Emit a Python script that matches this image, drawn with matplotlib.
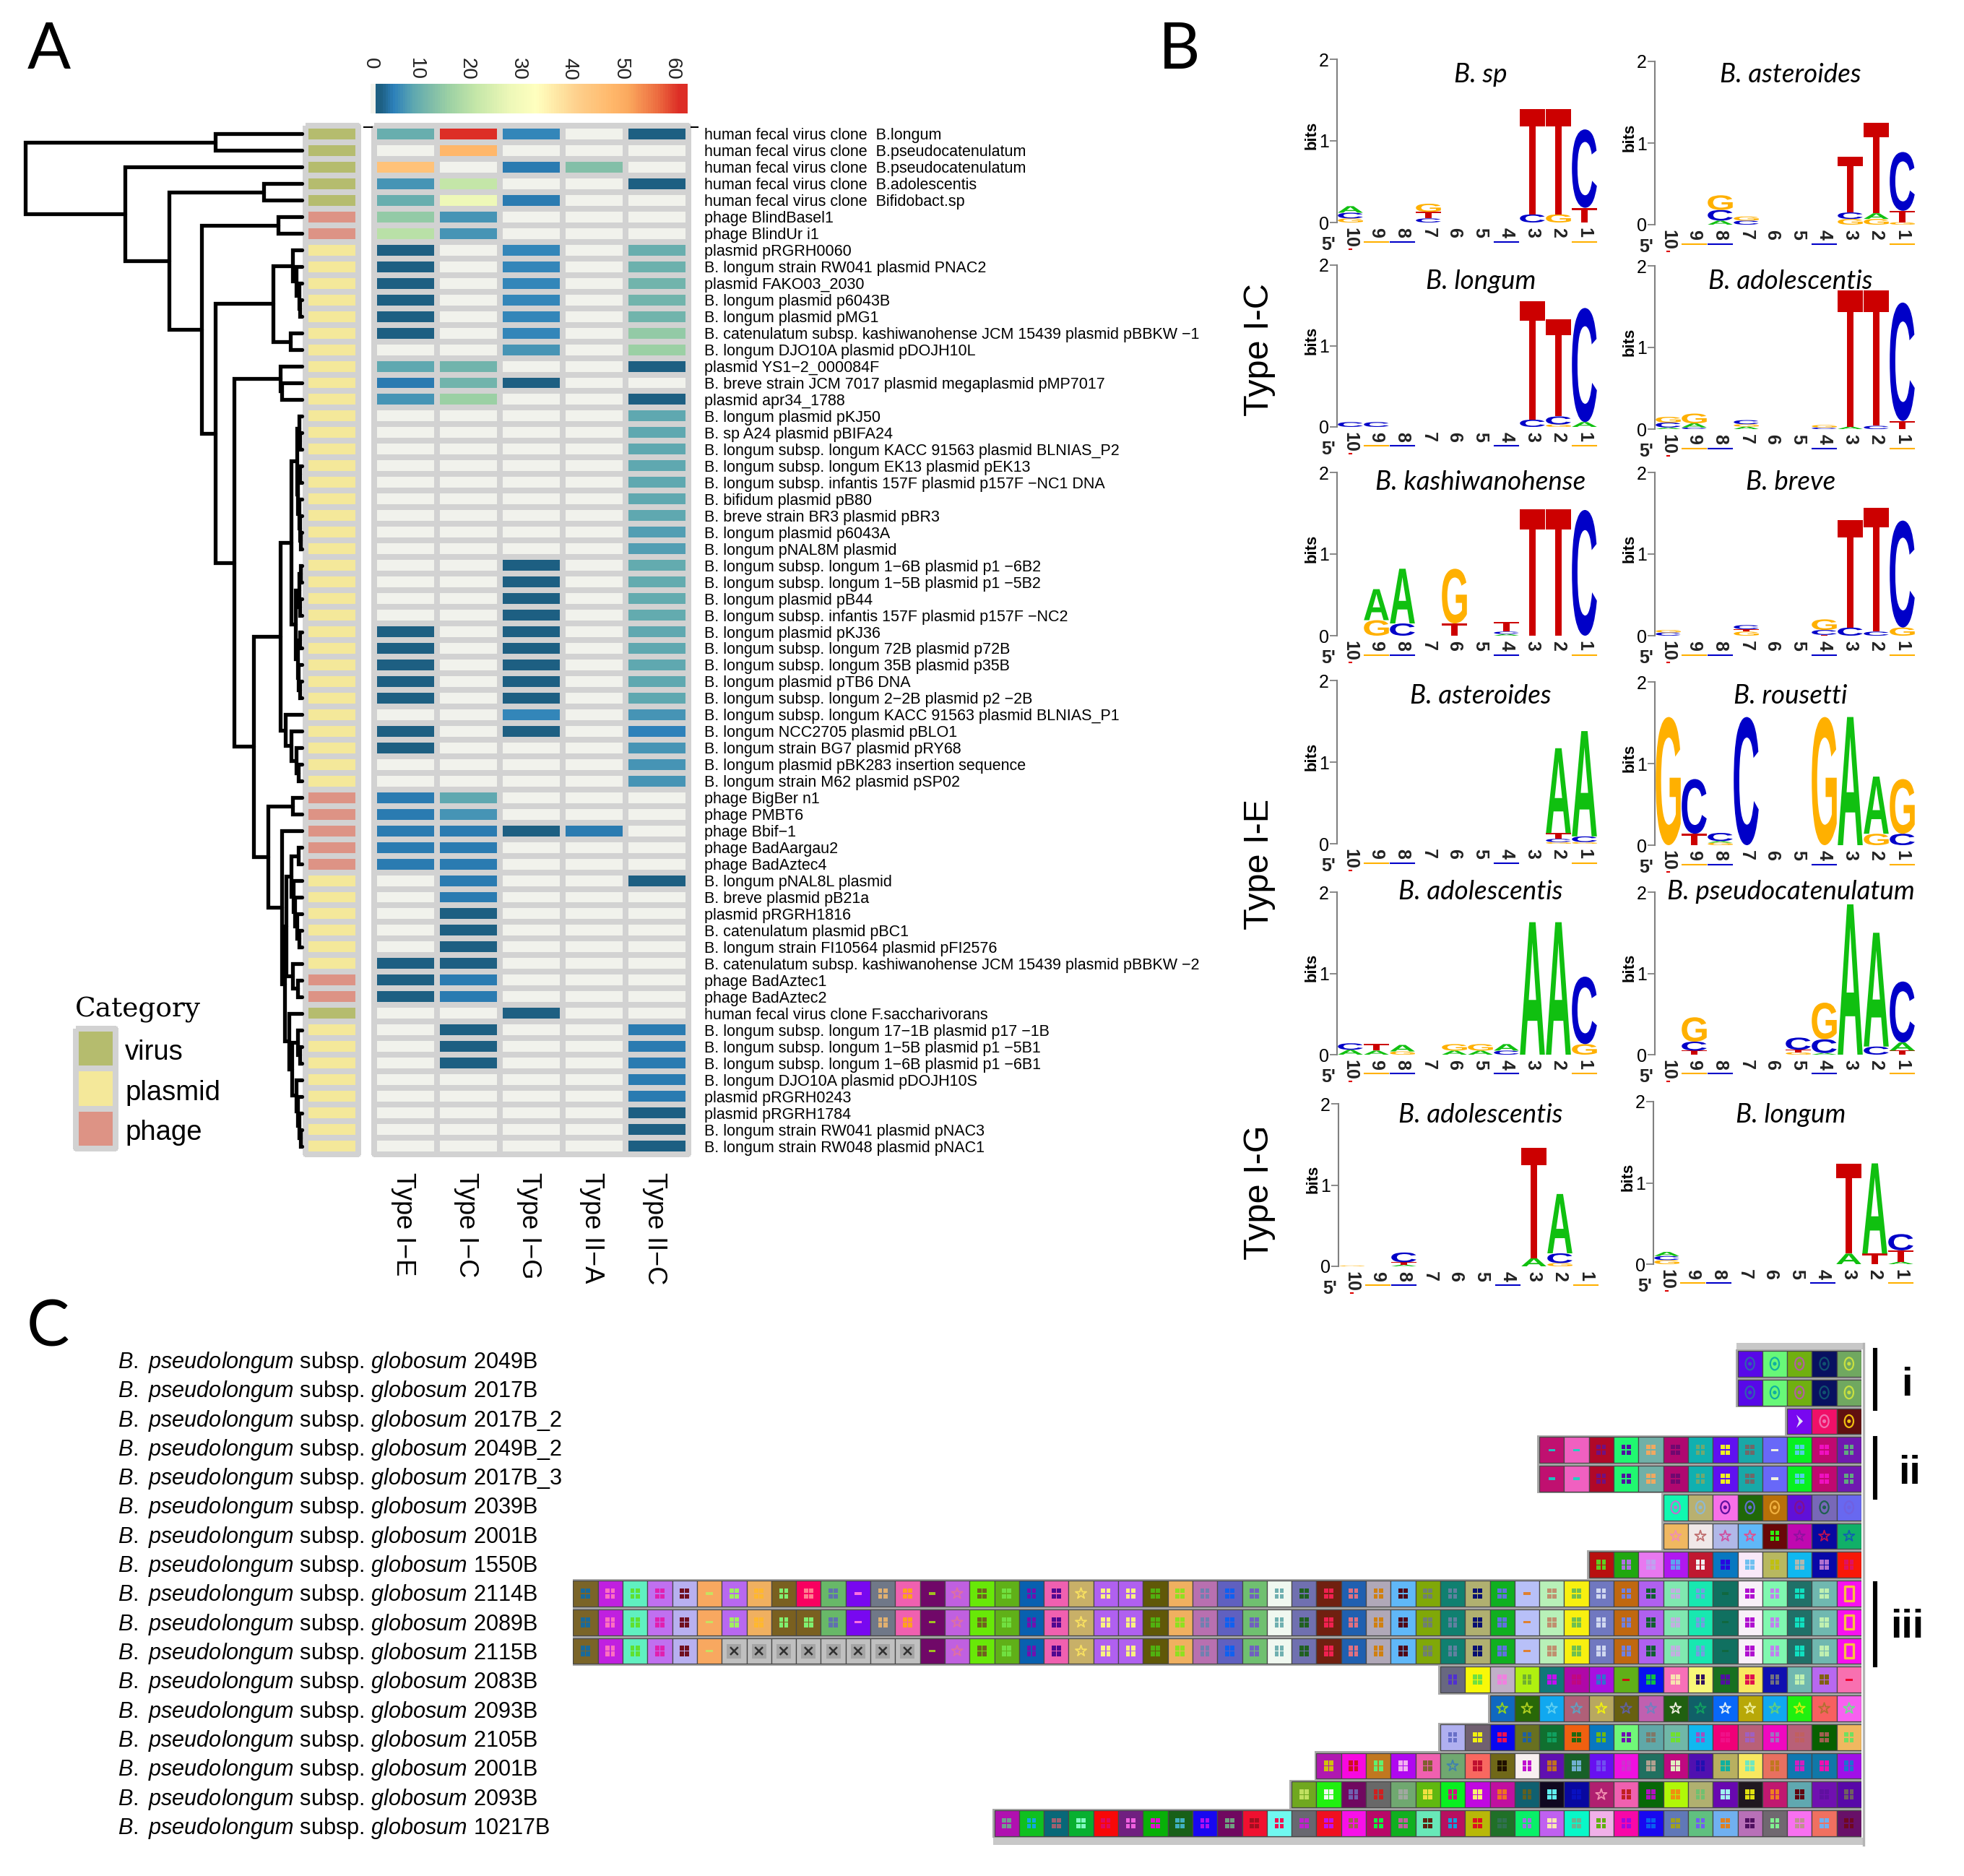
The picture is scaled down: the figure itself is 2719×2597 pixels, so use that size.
import matplotlib
matplotlib.use('Agg')
from matplotlib import pyplot as plt
from matplotlib.cm import ScalarMappable
from matplotlib.colors import LinearSegmentedColormap, ListedColormap, Normalize
from matplotlib.font_manager import FontProperties
from matplotlib.patches import PathPatch
from matplotlib.path import Path
from matplotlib.textpath import TextPath
from matplotlib.transforms import Affine2D, ScaledTranslation, blended_transform_factory
import numpy as np

W, H = 2719, 2597

plt.rcParams['font.family'] = ['Liberation Sans', 'DejaVu Sans']
plt.rcParams['mathtext.fontset'] = 'custom'
plt.rcParams['mathtext.it'] = 'Liberation Sans:italic'
plt.rcParams['mathtext.rm'] = 'Liberation Sans'

# ---- panel A data
row_labels = [
    'human fecal virus clone  B.longum', 'human fecal virus clone  B.pseudocatenulatum',
    'human fecal virus clone  B.pseudocatenulatum', 'human fecal virus clone  B.adolescentis',
    'human fecal virus clone  Bifidobact.sp', 'phage BlindBasel1', 'phage BlindUr i1',
    'plasmid pRGRH0060', 'B. longum strain RW041 plasmid PNAC2', 'plasmid FAKO03_2030',
    'B. longum plasmid p6043B', 'B. longum plasmid pMG1',
    'B. catenulatum subsp. kashiwanohense JCM 15439 plasmid pBBKW \u22121',
    'B. longum DJO10A plasmid pDOJH10L', 'plasmid YS1\u22122_000084F',
    'B. breve strain JCM 7017 plasmid megaplasmid pMP7017', 'plasmid apr34_1788',
    'B. longum plasmid pKJ50', 'B. sp A24 plasmid pBIFA24',
    'B. longum subsp. longum KACC 91563 plasmid BLNIAS_P2',
    'B. longum subsp. longum EK13 plasmid pEK13',
    'B. longum subsp. infantis 157F plasmid p157F \u2212NC1 DNA', 'B. bifidum plasmid pB80',
    'B. breve strain BR3 plasmid pBR3', 'B. longum plasmid p6043A', 'B. longum pNAL8M plasmid',
    'B. longum subsp. longum 1\u22126B plasmid p1 \u22126B2',
    'B. longum subsp. longum 1\u22125B plasmid p1 \u22125B2', 'B. longum plasmid pB44',
    'B. longum subsp. infantis 157F plasmid p157F \u2212NC2', 'B. longum plasmid pKJ36',
    'B. longum subsp. longum 72B plasmid p72B', 'B. longum subsp. longum 35B plasmid p35B',
    'B. longum plasmid pTB6 DNA', 'B. longum subsp. longum 2\u22122B plasmid p2 \u22122B',
    'B. longum subsp. longum KACC 91563 plasmid BLNIAS_P1', 'B. longum NCC2705 plasmid pBLO1',
    'B. longum strain BG7 plasmid pRY68', 'B. longum plasmid pBK283 insertion sequence',
    'B. longum strain M62 plasmid pSP02', 'phage BigBer n1', 'phage PMBT6', 'phage Bbif\u22121',
    'phage BadAargau2', 'phage BadAztec4', 'B. longum pNAL8L plasmid', 'B. breve plasmid pB21a',
    'plasmid pRGRH1816', 'B. catenulatum plasmid pBC1',
    'B. longum strain FI10564 plasmid pFI2576',
    'B. catenulatum subsp. kashiwanohense JCM 15439 plasmid pBBKW \u22122',
    'phage BadAztec1', 'phage BadAztec2', 'human fecal virus clone F.saccharivorans',
    'B. longum subsp. longum 17\u22121B plasmid p17 \u22121B',
    'B. longum subsp. longum 1\u22125B plasmid p1 \u22125B1',
    'B. longum subsp. longum 1\u22126B plasmid p1 \u22126B1', 'B. longum DJO10A plasmid pDOJH10S',
    'plasmid pRGRH0243', 'plasmid pRGRH1784', 'B. longum strain RW041 plasmid pNAC3',
    'B. longum strain RW048 plasmid pNAC1']

type_names = ['Type I\u2212E', 'Type I\u2212C', 'Type I\u2212G', 'Type II\u2212A', 'Type II\u2212C']
type_IE = [9, 0, 44, 6, 9, 14, 19, 1, 1, 1, 1, 1, 1, 0, 8, 4, 6,
           0, 0, 0, 0, 0, 0, 0, 0, 0, 0, 0, 0, 0, 1, 1, 1, 1, 1, 0, 1, 1, 0, 0,
           4, 4, 4, 4, 4, 0, 0, 0, 0, 0, 1, 1, 1, 0, 0, 0, 0, 0, 0, 0, 0, 0]
type_IC = [60, 47, 0, 20, 27, 6, 6, 0, 0, 0, 0, 0, 0, 0, 10, 10, 15,
           0, 0, 0, 0, 0, 0, 0, 0, 0, 0, 0, 0, 0, 0, 0, 0, 0, 0, 0, 0, 0, 0, 0,
           8, 6, 4, 4, 4, 4, 4, 1, 1, 1, 1, 4, 4, 0, 1, 1, 1, 0, 0, 0, 0, 0]
type_IG = [5, 0, 4, 0, 4, 0, 0, 5, 5, 5, 5, 5, 5, 6, 0, 1, 0,
           0, 0, 0, 0, 0, 0, 0, 0, 0, 1, 1, 1, 1, 1, 1, 1, 1, 1, 5, 1, 0, 0, 0,
           0, 0, 1, 0, 0, 0, 0, 0, 0, 0, 0, 0, 0, 1, 0, 0, 0, 0, 0, 0, 0, 0]
type_IIA = [0, 0, 12, 0, 0, 0, 0, 0, 0, 0, 0, 0, 0, 0, 0, 0, 0,
            0, 0, 0, 0, 0, 0, 0, 0, 0, 0, 0, 0, 0, 0, 0, 0, 0, 0, 0, 0, 0, 0, 0,
            0, 0, 4, 0, 0, 0, 0, 0, 0, 0, 0, 0, 0, 0, 0, 0, 0, 0, 0, 0, 0, 0]
type_IIC = [1, 0, 0, 1, 0, 0, 0, 9, 9.5, 10, 10, 10, 14, 15, 1, 0, 1,
            8, 8, 8, 8, 8, 8, 8, 7, 7, 8.5, 8.5, 8.5, 8.5, 8, 8, 8, 8, 8, 6, 4.5, 6, 6, 6,
            0, 0, 0, 0, 0, 1, 0, 0, 0, 0, 0, 0, 0, 0, 4, 4, 4, 4, 4, 1, 1, 1]

# 0 virus, 1 plasmid, 2 phage
category = [0, 0, 0, 0, 0, 2, 2] + [1] * 33 + [2] * 5 + [1] * 6 + [2, 2, 0] + [1] * 8
category_names = ['virus', 'plasmid', 'phage']
category_colors = ['#b5bc6e', '#f4e89a', '#dd9385']

color_stops = [(-0.3, '#f1f2ec'), (0.5, '#f1f2ec'), (0.6, '#1d5f82'), (1.5, '#1d5f82'),
               (4, '#2c80ba'), (8, '#5fa8b0'), (12, '#84c0a8'), (15, '#9dd1a4'),
               (20, '#c3e6a8'), (27, '#eef8b8'), (32, '#ffffbf'), (40, '#fed08c'),
               (47, '#ffb76a'), (50, '#fba95e'), (56, '#ec6a3f'), (60, '#dd2e26'), (61.5, '#dd2e26')]
colorbar_ticks = [0, 10, 20, 30, 40, 50, 60]

# dendrogram: (height, child, child), leaves are row numbers
tree_18_26 = (7, (4, 18, (3, 19, 20)), (6, (3, 21, 22), (4, 23, (3, 24, (2, 25, 26)))))
tree_27_35 = (9, (4, (2, 27, 28), (3, 29, 30)), (6, (3, 31, 32), (5, 33, (3, 34, 35))))
tree_44_53 = (22, (15, (5, 44, 45), (12, 46, (10, 47, (7, 48, (4, 49, 50))))),
              (13, 51, (6, 52, 53)))
tree_54_62 = (18, 54, (14, (6, 55, (3, 56, 57)), (8, 58, (6, 59, (4, 60, (2, 61, 62))))))
tree = (383,
        (120, 1, 2),
        (245, 3,
         (184, (53, 4, 5),
          (139, (33, 6, 7),
           (120,
            (40, (13, 8, (8, 9, (4, 10, (3, 11, 12)))), (16, 13, 14)),
            (94, (30, 15, (28, 16, 17)),
             (67,
              (30, (15, tree_18_26, tree_27_35), (23, 36, (15, 37, (8, 38, (5, 39, 40))))),
              (47, (13, 41, 42), (28, 43, (24, tree_44_53, tree_54_62))))))))))

# ---- panel B data: logo stacks, position -> (letter, bits) from the bottom up
logo_titles = ['B. sp', 'B. asteroides', 'B. longum', 'B. adolescentis', 'B. kashiwanohense', 'B. breve',
               'B. asteroides', 'B. rousetti', 'B. adolescentis', 'B. pseudocatenulatum',
               'B. adolescentis', 'B. longum']
logo_sp = {10: [('G', .05), ('C', .07), ('A', .08)], 7: [('C', .05), ('T', .08), ('G', .1)],
           3: [('C', .1), ('T', 1.29)], 2: [('G', .1), ('T', 1.29)], 1: [('T', .18), ('C', .96)]}
logo_asteroides = {8: [('A', .05), ('C', .13), ('G', .18)], 7: [('C', .05), ('G', .05)],
                   3: [('G', .07), ('C', .08), ('T', .68)], 2: [('G', .07), ('A', .07), ('T', 1.11)],
                   1: [('G', .03), ('T', .14), ('C', .72)]}
logo_longum = {10: [('C', .06)], 9: [('C', .06)], 3: [('C', .09), ('T', 1.46)],
               2: [('G', .03), ('C', .1), ('T', 1.2)], 1: [('A', .06), ('C', 1.41)]}
logo_adolescentis = {10: [('A', .02), ('C', .06), ('G', .07)], 9: [('C', .02), ('A', .05), ('G', .12)],
                     7: [('A', .03), ('G', .03), ('C', .05)], 4: [('C', .02), ('G', .03)],
                     3: [('A', .03), ('T', 1.67)], 2: [('C', .04), ('T', 1.66)],
                     1: [('T', .1), ('C', 1.45)]}
logo_kashi = {9: [('G', .19), ('A', .38)], 8: [('C', .15), ('A', .67)], 6: [('T', .15), ('G', .67)],
              4: [('A', .02), ('C', .03), ('T', .12)], 3: [('T', 1.55)], 2: [('T', 1.55)], 1: [('C', 1.54)]}
logo_breve = {10: [('C', .04), ('G', .03)], 7: [('G', .05), ('T', .03), ('C', .05)],
              4: [('T', .01), ('C', .06), ('G', .13)], 3: [('C', .1), ('T', 1.32)],
              2: [('C', .05), ('T', 1.52)], 1: [('G', .1), ('C', 1.31)]}
logo_ast_e = {2: [('G', .02), ('C', .04), ('T', .07), ('A', 1.04)], 1: [('G', .02), ('C', .07), ('A', 1.29)]}
logo_rousetti = {10: [('G', 1.57)], 9: [('T', .14), ('C', .67)], 8: [('G', .03), ('A', .02), ('C', .1)],
                 7: [('C', 1.57)], 4: [('G', 1.57)], 3: [('A', 1.57)], 2: [('G', .14), ('A', .7)],
                 1: [('C', .14), ('G', .67)]}
logo_ado_e = {10: [('A', .06), ('C', .08)], 9: [('A', .05), ('T', .08)], 8: [('G', .04), ('A', .08)],
              6: [('A', .05), ('G', .08)], 5: [('A', .05), ('G', .08)], 4: [('C', .05), ('A', .08)],
              3: [('A', 1.63)], 2: [('A', 1.63)], 1: [('G', .13), ('C', .83)]}
logo_pseudo = {9: [('T', .05), ('C', .11), ('G', .3)], 5: [('G', .03), ('T', .03), ('C', .15)],
               4: [('A', .02), ('C', .17), ('G', .45)], 3: [('A', 1.85)], 2: [('C', .1), ('A', 1.4)],
               1: [('T', .05), ('A', .1), ('C', .75)]}
logo_ado_g = {10: [('G', .01)], 8: [('A', .02), ('T', .03), ('C', .12)], 3: [('A', .1), ('T', 1.36)],
              2: [('G', .04), ('C', .12), ('A', .73)]}
logo_lon_g = {10: [('G', .05), ('C', .05), ('A', .05)], 3: [('A', .13), ('T', 1.11)],
              2: [('T', .13), ('A', 1.11)], 1: [('A', .03), ('T', .14), ('C', .2)]}
logo_stacks = [logo_sp, logo_asteroides, logo_longum, logo_adolescentis, logo_kashi, logo_breve,
               logo_ast_e, logo_rousetti, logo_ado_e, logo_pseudo, logo_ado_g, logo_lon_g]
letter_colors = {'A': '#10c010', 'C': '#0000c8', 'G': '#ffb000', 'T': '#cc0000'}
group_names = ['Type I-C', 'Type I-E', 'Type I-G']

# leftovers of the next row of letters under the position numbers
residue_positions = [10, 9, 8, 4, 1]
residue_colors = ['#dd0000', '#ffb000', '#0000c8', '#0000c8', '#ffb000']

# ---- panel C data
strain_ids = ['2049B', '2017B', '2017B_2', '2049B_2', '2017B_3', '2039B', '2001B', '1550B', '2114B',
              '2089B', '2115B', '2083B', '2093B', '2105B', '2001B', '2093B', '10217B']

# each cell: background, glyph colour, glyph (s windows, - dash, * star, o ring, x cross, > chevron, 0 box)
crispr_1 = ['5808e8 3060b0 o', '68f878 10b0a0 o', '70b010 b060a0 o', '081060 105070 o', '70a860 c8e040 o']
crispr_3 = ['7808f0 e0e0f8 >', 'f01068 f070b0 o', '601010 f0c010 o']
crispr_4 = ['c01070 20c0c0 -', 'f060c0 20d0c0 -', 'b00828 701080 s', '20f870 5010a0 s', '70b0a8 f0a860 s',
            'b00870 700870 s', '10b0b0 70a870 s', '6010f0 f0f020 s', '18a8a8 706868 s', '6868f8 f0f0e0 -',
            '08f020 50d0e0 s', 'c00870 f010c0 s', '7018b0 60a880 s']
crispr_6 = ['10f8b0 c070d0 o', 'b8b070 90b8d0 o', 'f870e8 6010a0 o', '206808 6070d0 o', 'b87008 f0b040 o',
            '6010d8 801090 o', '7868b8 206050 o', '6868f0 7060e0 o']
crispr_7 = ['f0b860 f090b0 *', 'f0e8e8 c07070 *', 'b0b8e8 d050a0 *', '60b8f8 e05090 *', '680808 30f010 s',
            'c008b0 9010a0 *', '0808a0 c01050 *', '10b068 1060b0 *']
crispr_8 = ['b81010 60d020 s', '20a810 b070e0 s', 'e878f0 c0a0f0 s', 'b018f0 60a0f0 s', 'c01830 f0f0f0 s',
            '0878c0 2808e0 s', 'f8e8f8 70c0f0 s', 'b8b860 c0c010 s', '10b8f0 b0b8b0 s', '0808a8 b070d0 s',
            'f81808 e01060 s']
crispr_9 = ['7a6428 1a6a9a s', 'c020e0 ff70c0 s', '60f0c0 60e030 s', 'c070f0 e020b0 s', 'b8b0f0 701020 s',
            'f8a860 c8e060 -', 'b868f0 a0f060 s', 'f0b060 ffb830 s', '7a6020 80f070 s', 'f80060 ff8090 s',
            '68b868 6070b0 s', '7808f0 ff70e0 -', '707888 e0b070 s', 'f060b0 ffa020 s', '700868 a0c020 -',
            'c060e0 e070a0 *', '68e808 706020 s', '60b018 70e040 s', '0860b0 7010b0 s', 'f060b0 500890 s',
            'c8b068 f8e060 *', 'b060f0 f8f080 s', 'b060f0 f8f080 s', '605808 50b010 s', 'f0b060 90e020 s',
            'b870b0 7080b0 s', '6060c0 1060f0 s', '70c070 7060c0 s', 'f0f8f0 70b0b0 s', '7070b0 206020 s',
            '702010 f02050 s', '2060b0 e07080 s', 'b0a8b8 d08010 s', '60b8f8 500818 s', '80a808 708070 s',
            '108070 6080a0 s', 'b0b070 081070 s', '10b020 6070e0 s', 'b8c0f8 e08030 -', 'b8f0b8 c09070 s',
            'f8f010 70c050 s', '7078c0 d0d8f0 s', 'c06810 7080e0 s', 'b060f0 106030 s', '80e8b0 c0b0e0 s',
            '18e8b0 70a0e0 s', '107060 106840 -', 'f8f0f8 b010d0 s', '80f8b0 c080f0 s', '207068 10e0c0 s',
            '70b8b0 c0f0b0 s', 'f810f0 f8c040 0']
crispr_10 = crispr_9[:9] + ['7a6020 80f070 s'] + crispr_9[10:]
crispr_11 = crispr_9[:6] + ['c0c0c0 303030 x'] * 8 + crispr_9[14:]
crispr_12 = ['686880 5030d0 s', 'f8f808 70e040 s', 'c0b0c8 f080e0 s', 'b0f010 70b030 s', '107878 c010f0 s',
             'b008a8 c00880 s', 'a810e0 3070d0 s', '60b018 d01010 -', '0810f0 10c040 s', 'f870b8 f8e0b0 s',
             'f8f878 301060 s', '187020 5010a0 s', 'f8e860 e01050 s', '1010b0 707080 s', '70b8b0 c0f0b0 s',
             'b868f0 806010 s', 'f870b0 f00030 -']
crispr_13 = ['1068c0 90d020 *', '286808 b0d020 *', '10a8f0 60d0f0 *', 'b06078 60a0c0 *', 'b8a860 f0f010 *',
             '686010 6060a0 *', 'c060b0 7080c0 *', '206010 f0f0e0 *', '106068 10a060 *', '0868f8 e0f0f8 *',
             'b8a808 f0f0a0 *', '10a8f0 60d080 *', '20f010 d0f010 *', 'f86060 b07030 *', 'f860f0 70e090 *']
crispr_14 = ['b0b0f0 6870c8 s', '706070 f0f010 s', '0808f0 f01050 s', '687020 2060a0 s', '107030 10a060 s',
             'f06010 206810 s', '0878c0 70b810 s', '70f878 7010b0 s', '60a8a8 807868 s', '70b8a8 70e030 s',
             '10b8f0 a050c0 s', 'f00078 f01088 s', 'b86078 a060c0 s', 'f008c0 a070c0 s', 'b86078 c06060 s',
             '086000 a06050 s', 'f0b860 70e060 s']
crispr_15 = ['b018b0 d0c010 s', 'f808e0 d01020 s', 'c07820 60f070 s', 'b008f0 f0b0f0 s', 'f060b0 806030 s',
             '70a870 4080b0 *', 'f86860 c01030 s', '706818 201000 s', 'f8f0f0 c010d0 s', '6010b0 c07020 s',
             '186028 70b0d0 s', '6810f0 7050f0 s', 'f010e0 d030d0 s', '207060 b0a090 s', 'c00880 e0f0c0 s',
             '5010b0 2010b0 s', 'b8b060 10b0a0 s', 'f8e860 70e8c0 s', 'e87060 c07820 s', '1078b0 d020c0 s',
             '1078a8 f010b0 s', 'a010e8 2070d0 s']
crispr_16 = ['70a820 c0e060 s', '20f010 f0f8f0 s', '700860 7060b0 s', '686868 d02020 s', '70a870 a0a8a0 s',
             '60b810 f0e040 s', '08f020 d01080 s', 'c008e0 f8f070 s', 'c010a0 f07020 s', '106070 606020 s',
             '100820 60f0f0 s', '0808a0 0810c0 s', 'b02070 f090b0 *', 'f060b0 c02020 s', '086808 b010c0 s',
             'b0f808 f09010 s', 'b0b070 70c070 s', '6808b0 a0f0f0 s', '201820 e0e010 s', 'c01870 f08020 s',
             '60a8b0 600810 s', '7010b0 6010a0 s', '5808a8 706060 s']
crispr_17 = ['b010b0 70a090 s', '10c020 10a8e0 s', '086878 a06070 s', '08b030 80f8c0 s', 'f80808 e00860 s',
             '702080 f060e0 s', '08b008 e010d0 s', '186018 40b0c0 s', '1808f0 b010f0 s', '700860 70a080 s',
             'f01030 a01020 s', '70f8f0 f01050 s', '686870 c020d0 s', 'f01020 c010f0 s', 'f810e8 a06050 s',
             'b80868 10f040 s', '10b020 c060a0 s', '68e8b8 602010 s', 'b81060 10a0e0 s', 'b8b808 e01020 s',
             '207028 307050 s', '08f068 a070e0 s', 'c060f0 f8e8b0 s', '08f8c8 70b090 s', 'f0b0e8 60b010 s',
             'f808a8 a008e0 s', '1808f0 0860f0 s', '6078b8 a0a020 s', '60c080 7060f0 s', '70b0f0 e08020 s',
             'b870b8 501060 s', '706870 80f090 s', 'f870f0 c09090 s', 'f07060 70b0f0 s', '681068 700820 s']
crispr_rows = [crispr_1, crispr_1, crispr_3, crispr_4, crispr_4, crispr_6, crispr_7, crispr_8, crispr_9,
               crispr_10, crispr_11, crispr_12, crispr_13, crispr_14, crispr_15, crispr_16, crispr_17]
bracket_labels = ['i', 'ii', 'iii']


def px_axes(fig, x0, y0, x1, y1):
    return fig.add_axes([x0 / W, 1 - y1 / H, (x1 - x0) / W, (y1 - y0) / H])


def ftext(fig, x, y, s, **kw):
    return fig.text(x / W, 1 - y / H, s, **kw)


def draw_tree(ax, node):
    # returns (y, height) of the node
    if not isinstance(node, tuple):
        return node - 0.5, 0
    h, left, right = node
    yl, hl = draw_tree(ax, left)
    yr, hr = draw_tree(ax, right)
    ax.plot([hl, h, h, hr], [yl, yl, yr, yr], color='k', lw=3.8,
            solid_capstyle='round', solid_joinstyle='miter', clip_on=False)
    return (yl + yr) / 2, h


def draw_logo(fig, title, stack, axis_x, y0, y2, title_xy):
    ax = px_axes(fig, axis_x, y2, axis_x + 380, y0)
    ax.set_xlim(-18.5 / 36, 361.5 / 36)
    ax.set_ylim(0, 2)
    for s in ['top', 'right', 'bottom']:
        ax.spines[s].set_visible(False)
    ax.spines['left'].set_color('#808080')
    ax.spines['left'].set_linewidth(1.5)
    ax.set_yticks([0, 1, 2])
    ax.tick_params(axis='y', length=7, width=1.3, color='#808080', labelsize=18, pad=1)
    ax.set_xticks(range(10))
    ax.set_xticklabels([str(10 - i) for i in range(10)], rotation=270, fontweight='bold', fontsize=18,
                       color='#222222')
    ax.tick_params(axis='x', length=0, pad=5)
    ax.patch.set_alpha(0)
    fp = FontProperties(family='Liberation Sans', weight='bold')
    for pos, letters in stack.items():
        bottom = 0
        for letter, bits in letters:
            tp = TextPath((0, 0), letter, size=1, prop=fp)
            bb = tp.get_extents()
            tr = Affine2D().translate(-bb.x0, -bb.y0).scale(0.96 / bb.width, bits / bb.height)
            tr = tr.translate(10 - pos - 0.48, bottom)
            ax.add_patch(PathPatch(tr.transform_path(tp), fc=letter_colors[letter], lw=0, clip_on=False))
            bottom += bits
    for pos, c in zip(residue_positions, residue_colors):
        yy = -0.33 if pos == 10 else -0.235
        half = 0.05 if pos == 10 else 0.45
        ax.plot([10 - pos - half, 10 - pos + half], [yy, yy], color=c, lw=1.5, clip_on=False)
    ftext(fig, axis_x - 12, y0 + 31, "5'", fontsize=18, fontweight='bold', ha='center', va='center',
          color='#222222')
    ftext(fig, axis_x - 35, (y0 + y2) / 2 - 8, 'bits', fontsize=16, fontweight='bold', rotation=90,
          ha='center', va='center')
    ftext(fig, title_xy[0], title_xy[1], title, family='Lato', style='italic', fontsize=26.5,
          ha='center', va='center')


if __name__ == '__main__':
    fig = plt.figure(figsize=(W / 100, H / 100), dpi=100)

    # panel letters
    ftext(fig, 68, 70, 'A', family='Lato', fontsize=64, ha='center', va='center')
    ftext(fig, 1633, 70, 'B', family='Lato', fontsize=64, ha='center', va='center')
    ftext(fig, 66, 1838, 'C', family='Lato', fontsize=64, ha='center', va='center')

    # panel A heatmap
    n_rows = len(row_labels)
    heat_top, heat_bot = 174, 1598
    stops_x = [(v + 0.3) / 61.8 for v, c in color_stops]
    cmap = LinearSegmentedColormap.from_list('spectral_like', list(zip(stops_x, [c for v, c in color_stops])), N=128)
    norm = Normalize(-0.3, 61.5)
    values = np.array([type_IE, type_IC, type_IG, type_IIA, type_IIC], dtype=float).T

    ax = px_axes(fig, 518, heat_top, 953, heat_bot)
    ax.pcolormesh(np.arange(6), np.arange(n_rows + 1), values, cmap=cmap, norm=norm,
                  edgecolors='#d2d2d2', linewidth=4.4, clip_on=False)
    ax.set_xlim(0, 5)
    ax.set_ylim(n_rows, 0)
    for s in ax.spines.values():
        s.set_visible(False)
    ax.yaxis.tick_right()
    ax.set_yticks(np.arange(n_rows) + 0.5)
    ax.set_yticklabels(row_labels, fontsize=15.5)
    ax.set_xticks(np.arange(5) + 0.5)
    ax.set_xticklabels(type_names, rotation=270, fontsize=26)
    ax.tick_params(axis='y', length=0, pad=16)
    ax.tick_params(axis='x', length=0, pad=18)
    nudge = ScaledTranslation(-3 / 100, 0, fig.dpi_scale_trans)
    for lab in ax.get_xticklabels():
        lab.set_transform(lab.get_transform() + nudge)
    # little ticks left at the top row
    ax.plot([-0.16, -0.04], [0.09, 0.09], color='k', lw=1.5, clip_on=False)
    ax.plot([5.05, 5.15], [0.09, 0.09], color='k', lw=1.5, clip_on=False)

    # annotation column
    ax_ann = px_axes(fig, 423, heat_top, 496, heat_bot)
    cat_cmap = ListedColormap(category_colors)
    ax_ann.pcolormesh(np.arange(2), np.arange(n_rows + 1), np.array(category)[:, None], cmap=cat_cmap,
                      vmin=-0.5, vmax=2.5, edgecolors='#d2d2d2', linewidth=4.4, clip_on=False)
    ax_ann.set_ylim(n_rows, 0)
    ax_ann.axis('off')

    # dendrogram
    ax_tree = px_axes(fig, 35, heat_top, 418, heat_bot)
    ax_tree.set_xlim(383, 0)
    ax_tree.set_ylim(n_rows, 0)
    ax_tree.axis('off')
    draw_tree(ax_tree, tree)

    # colour bar
    cax = px_axes(fig, 513, 116, 952, 157)
    cb = fig.colorbar(ScalarMappable(norm=norm, cmap=cmap), cax=cax, orientation='horizontal')
    cb.outline.set_visible(False)
    cb.set_ticks([])
    trans = blended_transform_factory(cax.transData, cax.transAxes)
    for v in colorbar_ticks:
        cax.text(v - 1.2 * (v > 0) - 0.3, 1 + (116 - 80) / 41, str(v), rotation=270, ha='center', va='top',
                 fontsize=20, transform=trans, color='#222222')

    # category legend
    ftext(fig, 104, 1398, 'Category', family='DejaVu Serif', fontsize=27, ha='left', va='center')
    ax_leg = px_axes(fig, 105, 1424, 160, 1590)
    ax_leg.pcolormesh(np.arange(2), np.arange(4), np.arange(3)[:, None], cmap=cat_cmap, vmin=-0.5, vmax=2.5,
                      edgecolors='#d2d2d2', linewidth=4.4, clip_on=False)
    ax_leg.set_ylim(3, 0)
    ax_leg.axis('off')
    for i, name in enumerate(category_names):
        ax_leg.text(1.24, i + 0.6, name, fontsize=27.5, va='center', ha='left', clip_on=False)

    # panel B logos
    logo_axis_x = [1851, 2291, 1851, 2291, 1851, 2291, 1851, 2291, 1851, 2291, 1853, 2289]
    logo_y0 = [308, 311, 591, 594, 880, 880, 1168, 1170, 1460, 1460, 1753, 1750]
    logo_y2 = [82, 85, 367, 368, 654, 654, 942, 944, 1235, 1235, 1528, 1525]
    title_y = [104, 104, 390, 390, 668, 668, 963, 963, 1234, 1234, 1544, 1544]
    for i, (t, st) in enumerate(zip(logo_titles, logo_stacks)):
        cx = 2050 if i % 2 == 0 else 2479
        draw_logo(fig, t, st, logo_axis_x[i], logo_y0[i], logo_y2[i], (cx, title_y[i]))
    for name, yc in zip(group_names, [484, 1196, 1651]):
        ftext(fig, 1743, yc, name, fontsize=35, rotation=90, ha='center', va='center')

    # panel C labels
    for i, sid in enumerate(strain_ids):
        ftext(fig, 163, 1886 + 40.3 * i,
              r'$\mathit{B.\ pseudolongum}$ subsp. $\mathit{globosum}$ ' + sid,
              fontsize=22.1, ha='left', va='center')

    # panel C cells
    n_cols = 52
    ax_c = px_axes(fig, 2577 - n_cols * 34.3, 1868, 2577, 2544)
    ax_c.set_xlim(0, n_cols)
    ax_c.set_ylim(len(crispr_rows) - 0.5, -0.5)
    ax_c.axis('off')
    four = Path.make_compound_path(*[Path([(x, y), (x + .8, y), (x + .8, y + .9), (x, y + .9), (x, y)], closed=True)
                                     for x in (-.9, .1) for y in (-1, .1)])
    dash = Path([(-1, -.35), (1, -.35), (1, .35), (-1, .35), (-1, -.35)], closed=True)
    chev = Path([(-.5, -1), (.5, 0), (-.5, 1), (-.1, 0), (-.5, -1)], closed=True)
    box = Path([(-.62, -1), (.62, -1), (.62, 1), (-.62, 1), (-.62, -1)], closed=True)
    ring = Path.unit_circle().transformed(Affine2D().scale(.72, 1))
    for r, cells in enumerate(crispr_rows):
        n = len(cells)
        left = n_cols - n
        ax_c.barh(r, n + 0.16, left=left - 0.08, height=1.02, color='#a8a8a8', lw=0, zorder=1)
        cols = left + np.arange(n) + 0.5
        faces = ['#' + c.split()[0] for c in cells]
        inks = ['#' + c.split()[1] for c in cells]
        kinds = np.array([c.split()[2] for c in cells])
        ax_c.barh(r, 1, left=cols - 0.5, height=0.9, color=faces, edgecolor='#484848', lw=0.9, zorder=2)
        inks = np.array(inks)
        pick = kinds == 's'
        ax_c.scatter(cols[pick], [r] * pick.sum(), s=105, marker=four, c=inks[pick], lw=0, zorder=3)
        pick = kinds == '-'
        ax_c.scatter(cols[pick], [r] * pick.sum(), s=45, marker=dash, c=inks[pick], lw=0, zorder=3)
        pick = kinds == '>'
        ax_c.scatter(cols[pick], [r] * pick.sum(), s=170, marker=chev, c=inks[pick], lw=0, zorder=3)
        pick = kinds == '*'
        ax_c.scatter(cols[pick], [r] * pick.sum(), s=130, marker='*', facecolors='none', edgecolors=inks[pick],
                     lw=1.3, zorder=3)
        pick = kinds == 'o'
        ax_c.scatter(cols[pick], [r] * pick.sum(), s=150, marker=ring, facecolors='none', edgecolors=inks[pick],
                     lw=1.6, zorder=3)
        ax_c.scatter(cols[pick], [r] * pick.sum(), s=14, marker='o', c=inks[pick], lw=0, zorder=3)
        pick = kinds == '0'
        ax_c.scatter(cols[pick], [r] * pick.sum(), s=190, marker=box, facecolors='none', edgecolors=inks[pick],
                     lw=2.4, zorder=3)
        pick = kinds == 'x'
        ax_c.scatter(cols[pick], [r] * pick.sum(), s=190, marker='s', c='#a4a4a4', lw=0, zorder=3)
        ax_c.scatter(cols[pick], [r] * pick.sum(), s=60, marker='x', c=inks[pick], lw=1.8, zorder=4)
    # grey rim of the block
    ax_c.barh(-0.62, 5.1, left=n_cols - 5.05, height=0.22, color='#c8c8c8', lw=0, clip_on=False)
    ax_c.barh(16.62, 35.1, left=n_cols - 35.05, height=0.26, color='#c8c8c8', lw=0, clip_on=False)
    ax_c.plot([n_cols + 0.08] * 2, [-0.7, 16.75], color='#b4b4b4', lw=2.4, clip_on=False)

    # brackets
    for name, y_a, y_b, tx, ty in zip(bracket_labels, [1869, 1991, 2192], [1950, 2073, 2305],
                                      [2640, 2643, 2640], [1918, 2040, 2253]):
        fig.add_artist(plt.Line2D([2596 / W] * 2, [1 - y_a / H, 1 - y_b / H], color='k', lw=4.4))
        ftext(fig, tx, ty, name, fontsize=40, fontweight='bold', ha='center', va='center')

    fig.savefig('out.png', dpi=100)
